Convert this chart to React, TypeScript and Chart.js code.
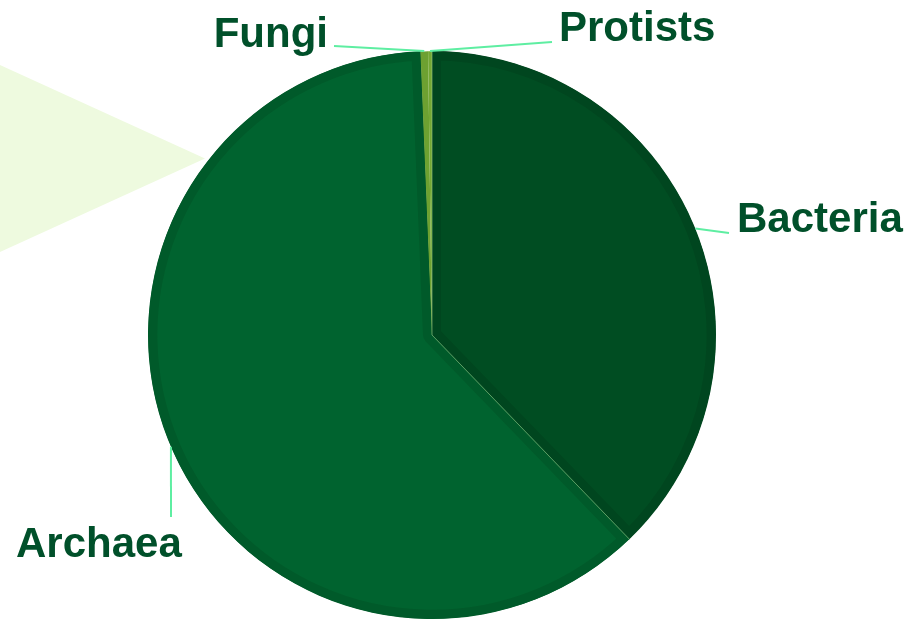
import React, { useEffect, useRef } from "react";
import { Chart, registerables } from "chart.js";

Chart.register(...registerables);

// ---- data ----
const categories = ["Bacteria", "Archaea", "Fungi", "Protists"];
const shares = [37.77, 61.58, 0.43, 0.22];

// ---- styles ----
const fillColors = ["#004d22", "#00632f", "#6da131", "#74a834"];
const borderColors = ["#00461f", "#005a2a", "#6da131", "#74a834"];
const borderWidths = [9, 9, 0, 0];

// label layout: leader end point, text anchor, alignment
const labelLayout = [
  { lx: 729, ly: 233, tx: 737, ty: 232, align: "left" },
  { lx: 171, ly: 517, tx: 16, ty: 557, align: "left" },
  { lx: 334, ly: 46, tx: 328, ty: 47, align: "right" },
  { lx: 552, ly: 42, tx: 559, ty: 41, align: "left" },
];

const labelPlugin = {
  id: "leaderLabels",
  afterDatasetsDraw(chart: any) {
    const ctx = chart.ctx;
    const meta = chart.getDatasetMeta(0);
    ctx.save();
    // light seams between the two large slices
    [0, 1].forEach((i) => {
      const arc: any = meta.data[i];
      const { x, y, startAngle, outerRadius } = arc.getProps(
        ["x", "y", "startAngle", "outerRadius"],
        true
      );
      ctx.beginPath();
      ctx.moveTo(x, y);
      ctx.lineTo(x + Math.cos(startAngle) * outerRadius, y + Math.sin(startAngle) * outerRadius);
      ctx.strokeStyle = "rgba(170,215,150,0.55)";
      ctx.lineWidth = 1;
      ctx.stroke();
    });
    meta.data.forEach((arc: any, i: number) => {
      const { x, y, startAngle, endAngle, outerRadius } = arc.getProps(
        ["x", "y", "startAngle", "endAngle", "outerRadius"],
        true
      );
      const mid = (startAngle + endAngle) / 2;
      const px = x + Math.cos(mid) * outerRadius;
      const py = y + Math.sin(mid) * outerRadius;
      const L = labelLayout[i];
      ctx.beginPath();
      ctx.moveTo(px, py);
      ctx.lineTo(L.lx, L.ly);
      ctx.strokeStyle = "#5eeea2";
      ctx.lineWidth = 2;
      ctx.stroke();
      ctx.font = "bold 42px 'Liberation Sans', Arial, sans-serif";
      ctx.fillStyle = "#00502a";
      ctx.textAlign = L.align;
      ctx.textBaseline = "alphabetic";
      ctx.fillText(chart.data.labels[i], L.tx, L.ty);
    });
    ctx.restore();
  },
};

export default function App() {
  const ref = useRef<HTMLCanvasElement | null>(null);
  useEffect(() => {
    if (!ref.current) return;
    const chart = new Chart(ref.current, {
      type: "pie",
      data: {
        labels: categories,
        datasets: [
          {
            data: shares,
            backgroundColor: fillColors,
            borderColor: borderColors,
            borderWidth: borderWidths,
            borderAlign: "inner",
            hoverOffset: 0,
            offset: 0,
          } as any,
        ],
      },
      options: {
        animation: false,
        responsive: true,
        maintainAspectRatio: false,
        events: [],
        radius: 284,
        layout: { padding: { left: 148, right: 193, top: 51, bottom: 1 } },
        plugins: {
          legend: { display: false },
          tooltip: { enabled: false },
        },
      } as any,
      plugins: [labelPlugin],
    });
    return () => chart.destroy();
  }, []);

  return (
    <div style={{ position: "fixed", left: 0, top: 0, width: 909, height: 620, background: "#ffffff" }}>
      <div
        style={{
          position: "absolute",
          left: 0,
          top: 65,
          width: 205,
          height: 187,
          background: "#eefadf",
          clipPath: "polygon(0 0, 100% 50%, 0 100%)",
        }}
      />
      <canvas ref={ref} style={{ position: "absolute", left: 0, top: 0 }} />
    </div>
  );
}
